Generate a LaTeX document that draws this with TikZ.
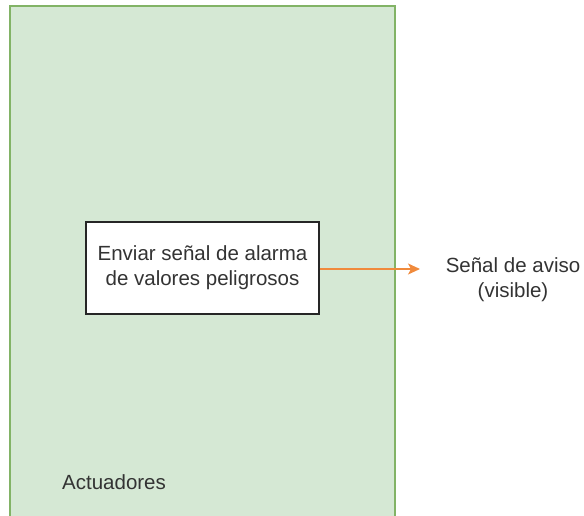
\documentclass[tikz,border=0pt]{standalone}
\usepackage{fontspec}
\setmainfont{Liberation Sans}
\usetikzlibrary{arrows.meta,positioning}
\definecolor{verdefondo}{HTML}{D5E8D4}
\definecolor{verdeborde}{HTML}{82B366}
\definecolor{naranja}{HTML}{F08A3C}
\definecolor{texto}{HTML}{333333}

\begin{document}
\begin{tikzpicture}[x=1pt,y=-1pt,
  every node/.style={font=\fontsize{20.5}{25}\selectfont,text=texto},
  contenedor/.style={draw=verdeborde,fill=verdefondo,line width=1.2pt,inner sep=0pt,
    minimum width=385pt,minimum height=530pt},
  caja/.style={draw=black!85,fill=white,line width=1.2pt,align=center,inner sep=0pt,
    minimum width=233pt,minimum height=92pt},
  flecha/.style={draw=naranja,line width=1.2pt,-{Stealth[length=12pt,width=11pt,inset=3pt]}}]
  \useasboundingbox (0,0) rectangle (584,516);
  \clip (0,0) rectangle (584,516);
  \node[contenedor] (actuadores) at (202.5,271) {};
  \node[caja] (alarma) at (202.5,268) {Enviar señal de alarma\\de valores peligrosos};
  \node[anchor=west,inner sep=0pt] (etiqueta) at (62,482) {Actuadores};
  \node[align=center] (aviso) at (513,280) {Señal de aviso\\(visible)};
  \coordinate (punta) at (420,269);
  \draw[flecha] (alarma.east |- punta) -- (punta);
\end{tikzpicture}
\end{document}
